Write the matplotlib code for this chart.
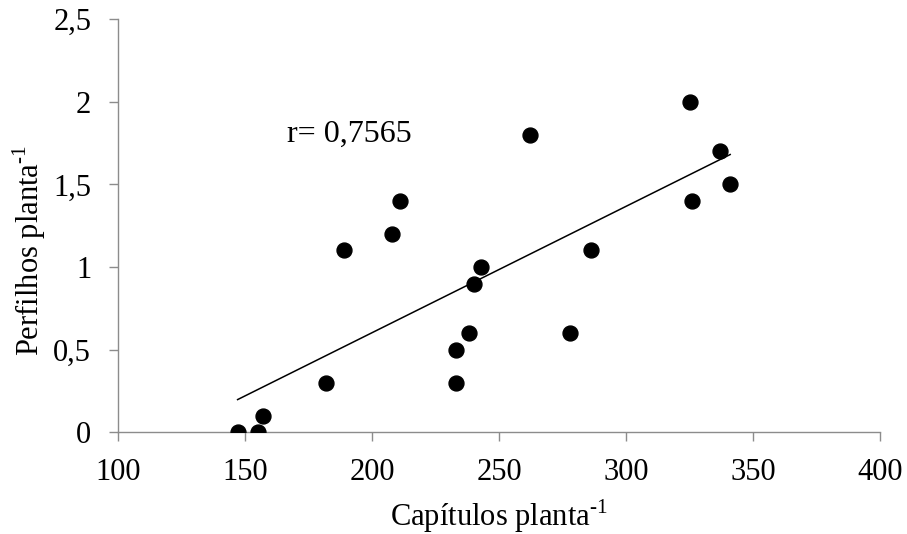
import numpy as np
import matplotlib
matplotlib.use("Agg")
import matplotlib.pyplot as plt

# values
capitulos = [147, 155, 157, 182, 189, 208, 211, 233, 233, 238,
             240, 243, 262, 278, 286, 325, 326, 337, 341]
perfilhos = [0.0, 0.0, 0.1, 0.3, 1.1, 1.2, 1.4, 0.3, 0.5, 0.6,
             0.9, 1.0, 1.8, 0.6, 1.1, 2.0, 1.4, 1.7, 1.5]
x_ticks = [100, 150, 200, 250, 300, 350, 400]
y_ticks = [0, 0.5, 1, 1.5, 2, 2.5]
y_tick_labels = ["0", "0,5", "1", "1,5", "2", "2,5"]
r_label = "r= 0,7565"

plt.rcParams['font.family'] = ['Liberation Serif', 'DejaVu Serif']
plt.rcParams['mathtext.fontset'] = 'custom'
plt.rcParams['mathtext.rm'] = 'Liberation Serif'

fig = plt.figure(figsize=(9.07, 5.34), dpi=100)
ax = fig.add_axes([0.1304, 0.1904, 0.8398, 0.7740])

ax.scatter(capitulos, perfilhos, s=115, color='black', zorder=3)

# linear trend line over the data range
slope, intercept = np.polyfit(capitulos, perfilhos, 1)
xl = np.array([min(capitulos), max(capitulos)])
ax.plot(xl, slope * xl + intercept, color='black', linewidth=1.1)

ax.text(166.4, 1.80, r_label, fontsize=23, ha='left', va='center')

ax.set_xlim(100, 400)
ax.set_ylim(0, 2.5)
ax.set_xticks(x_ticks)
ax.set_xticklabels([str(t) for t in x_ticks])
ax.set_yticks(y_ticks)
ax.set_yticklabels(y_tick_labels)

for s in ['top', 'right']:
    ax.spines[s].set_visible(False)
for s in ['left', 'bottom']:
    ax.spines[s].set_color('#8c8c8c')
    ax.spines[s].set_linewidth(1.0)
ax.tick_params(axis='both', colors='#8c8c8c', labelcolor='black',
               labelsize=22, length=6.5, width=1.0)
ax.tick_params(axis='y', pad=13)
ax.tick_params(axis='x', pad=12)

ax.set_xlabel(r"Capítulos planta$^{\text{-1}}$", fontsize=22)
ax.set_ylabel(r"Perfilhos planta$^{\text{-1}}$", fontsize=22)
ax.xaxis.set_label_coords(0.5, -0.158)
ax.yaxis.set_label_coords(-0.092, 0.44)

fig.savefig("out.png", dpi=100)
